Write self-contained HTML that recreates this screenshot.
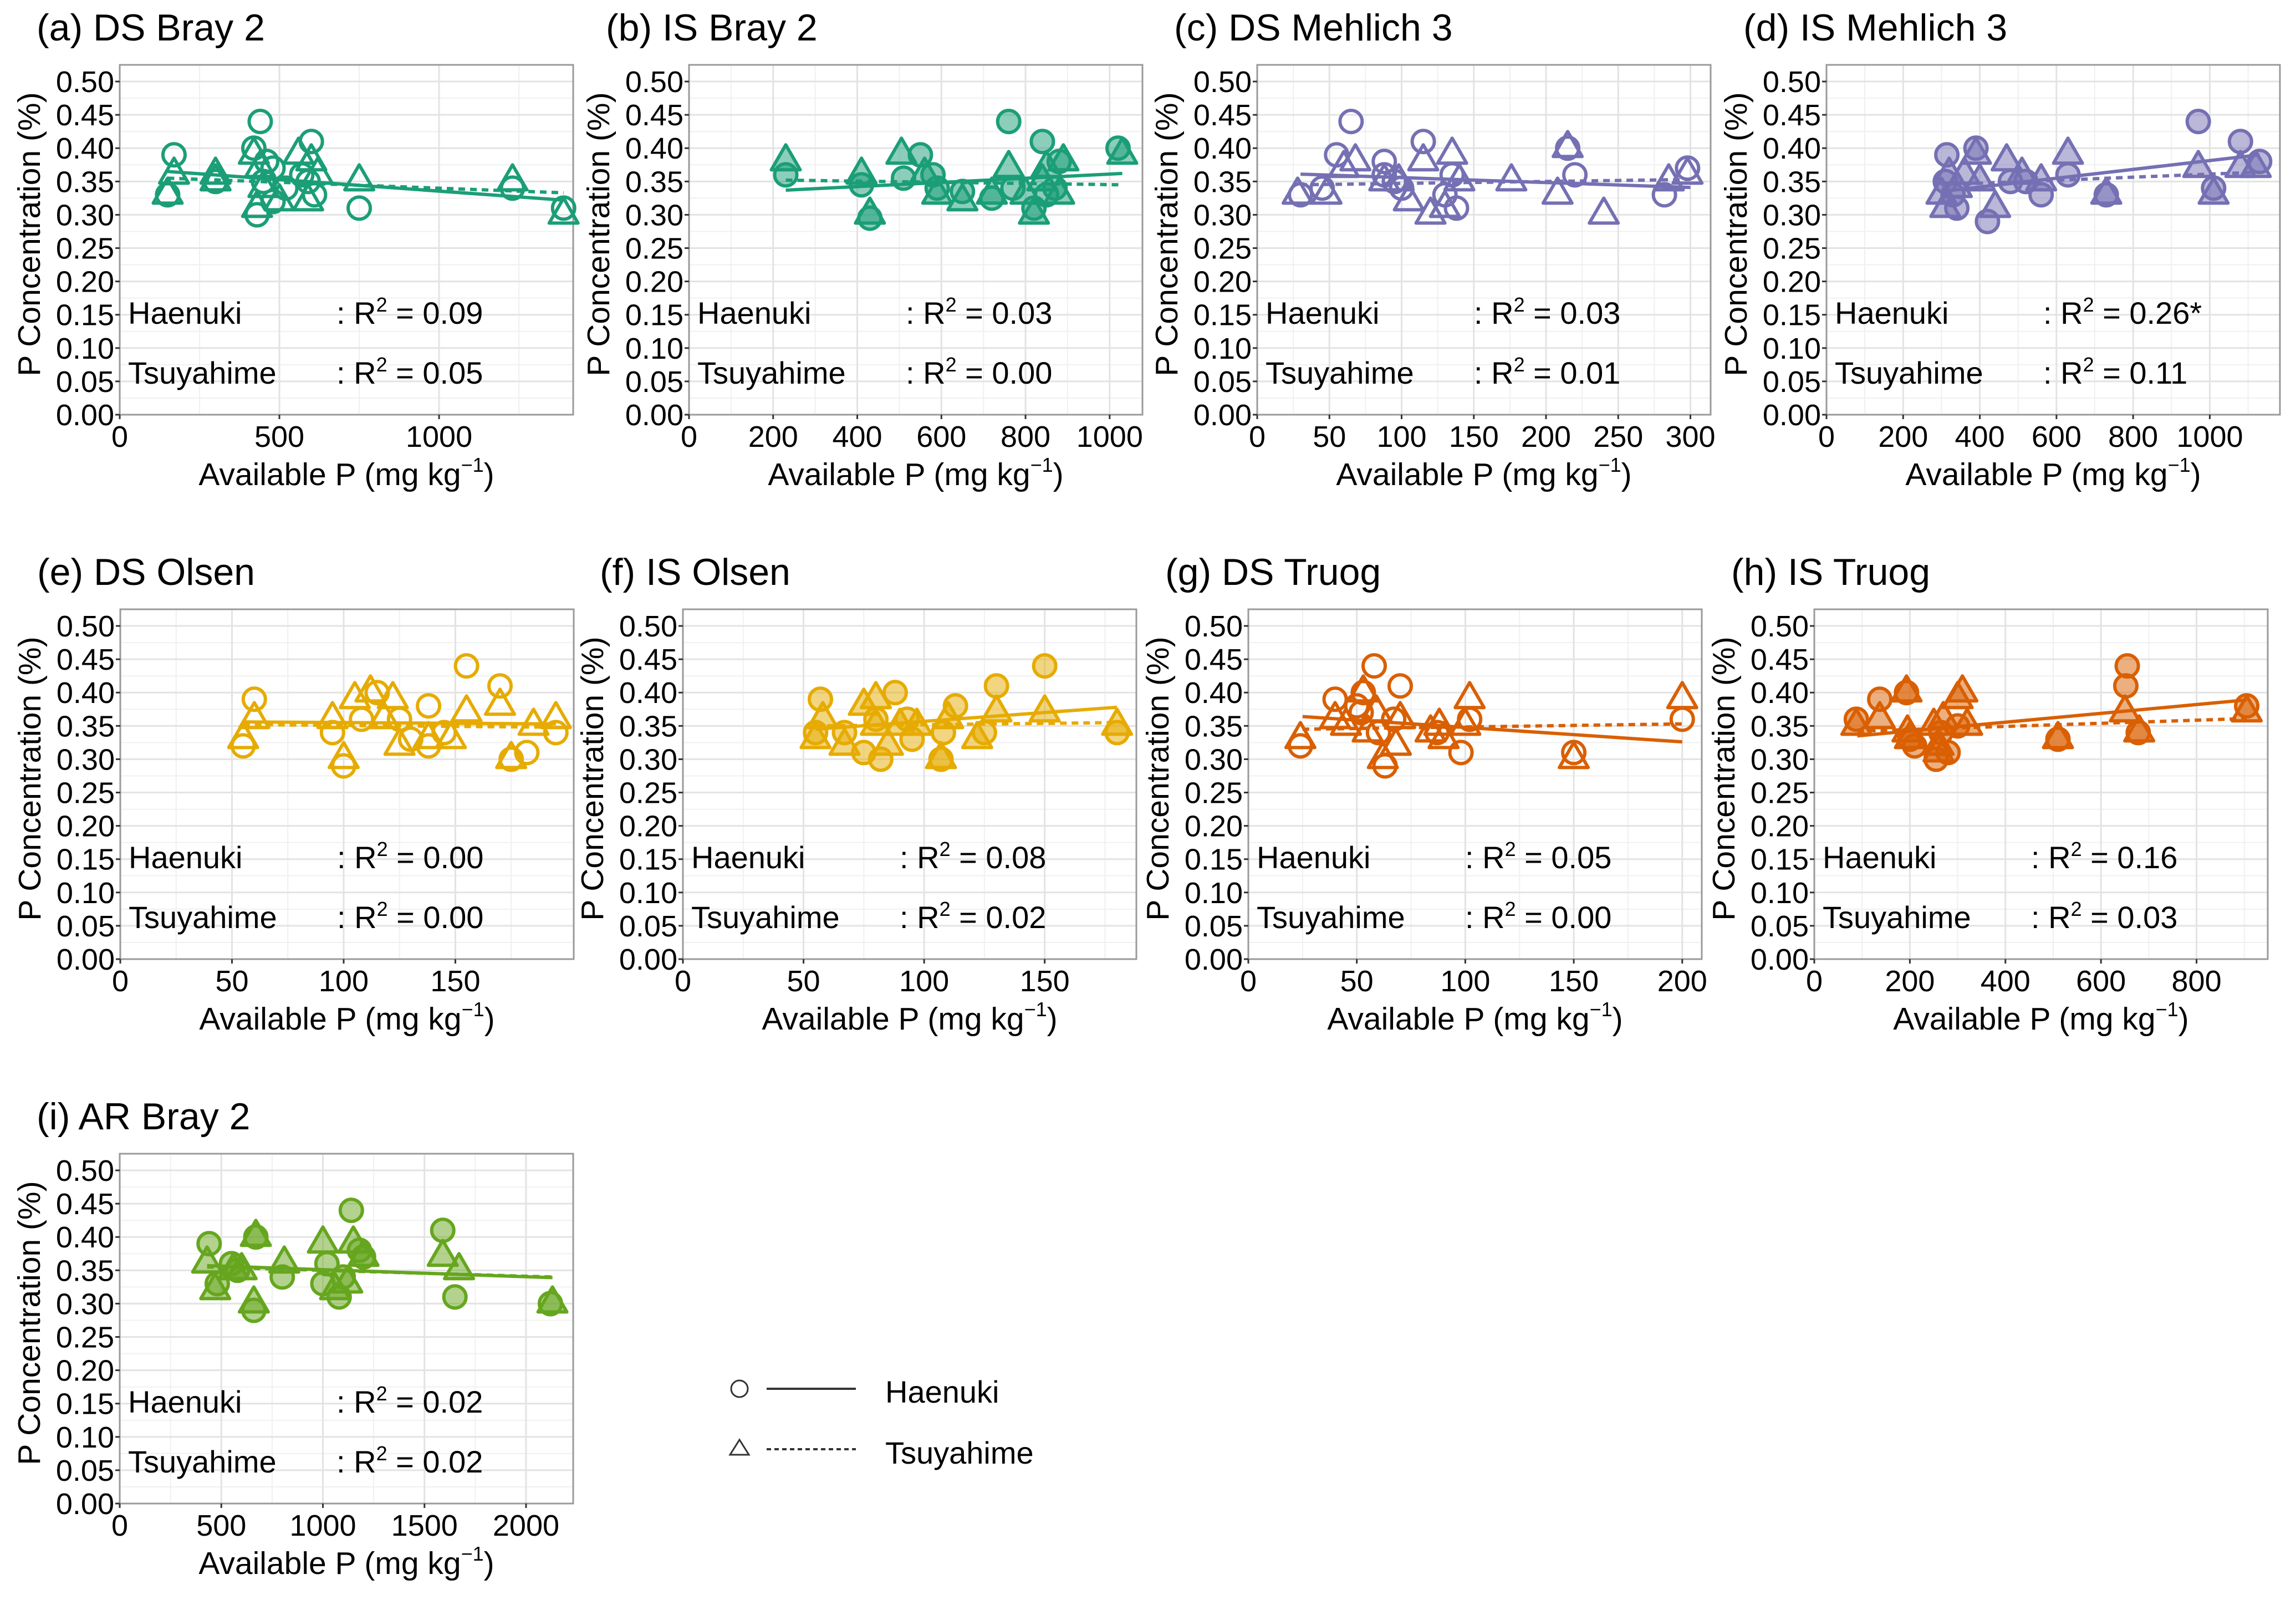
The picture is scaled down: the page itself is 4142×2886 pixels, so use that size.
<!DOCTYPE html>
<html><head><meta charset="utf-8"><style>
html,body{margin:0;padding:0;background:#fff;}
svg{display:block;font-family:"Liberation Sans",Arial,sans-serif;}
</style></head><body>
<svg id="fig" width="4142" height="2886" viewBox="0 0 4142 2886" xmlns="http://www.w3.org/2000/svg"></svg>
<script>
// ---- data (x: available P, y: P concentration) ----
const a_hx=[170,150,300,420,440,430,460,480,520,570,600,610,750,1230,1390,450,480,590];
const a_hy=[0.39,0.33,0.35,0.40,0.44,0.30,0.38,0.37,0.34,0.36,0.41,0.33,0.31,0.34,0.31,0.35,0.32,0.35];
const a_tx=[170,150,300,420,440,430,500,560,600,620,590,750,1230,1390,450,300];
const a_ty=[0.36,0.33,0.36,0.39,0.37,0.31,0.32,0.39,0.38,0.36,0.32,0.35,0.35,0.30,0.34,0.35];
const a_fx=[150,1390]; const a_fh=[0.365,0.322]; const a_ft=[0.355,0.333];

const b_hx=[230,410,430,510,550,580,590,650,720,760,770,820,840,850,880,1020,870];
const b_hy=[0.36,0.345,0.295,0.355,0.39,0.36,0.34,0.335,0.325,0.44,0.34,0.31,0.41,0.33,0.38,0.40,0.34];
const b_tx=[230,410,430,505,560,590,650,720,760,800,820,850,880,890,1030,840];
const b_ty=[0.38,0.36,0.30,0.39,0.36,0.33,0.32,0.33,0.37,0.33,0.30,0.37,0.33,0.38,0.39,0.35];
const b_fx=[230,1030]; const b_fh=[0.337,0.362]; const b_ft=[0.352,0.345];

const c_hx=[30,45,55,65,88,95,100,115,130,135,138,215,220,282,298,88];
const c_hy=[0.33,0.34,0.39,0.44,0.38,0.35,0.34,0.41,0.33,0.36,0.31,0.40,0.36,0.33,0.37,0.36];
const c_tx=[28,48,60,68,88,98,105,115,120,135,140,176,208,215,240,285,298,130];
const c_ty=[0.33,0.33,0.37,0.38,0.35,0.35,0.32,0.38,0.30,0.39,0.35,0.35,0.33,0.40,0.30,0.35,0.36,0.31];
const c_fx=[30,300]; const c_fh=[0.361,0.341]; const c_ft=[0.345,0.353];

const d_hx=[314,330,340,390,420,480,520,560,630,730,970,1010,1080,1130,310];
const d_hy=[0.39,0.33,0.31,0.40,0.29,0.35,0.35,0.33,0.36,0.33,0.44,0.34,0.41,0.38,0.35];
const d_tx=[300,310,320,340,360,390,400,440,470,510,560,630,730,970,1010,1080,1120];
const d_ty=[0.33,0.31,0.36,0.34,0.36,0.39,0.35,0.31,0.38,0.36,0.35,0.39,0.33,0.37,0.33,0.37,0.37];
const d_fx=[300,1130]; const d_fh=[0.335,0.39]; const d_ft=[0.345,0.364];

const e_hx=[55,60,95,100,108,115,125,130,138,138,155,170,175,182,195,145];
const e_hy=[0.32,0.39,0.34,0.29,0.36,0.40,0.36,0.33,0.38,0.32,0.44,0.41,0.30,0.31,0.34,0.34];
const e_tx=[55,60,95,100,105,112,118,122,125,138,148,155,170,175,185,195];
const e_ty=[0.33,0.36,0.36,0.30,0.39,0.40,0.36,0.39,0.32,0.33,0.33,0.37,0.38,0.30,0.35,0.36];
const e_fx=[55,195]; const e_fh=[0.356,0.353]; const e_ft=[0.352,0.348];

const f_hx=[57,55,67,75,80,82,88,93,95,107,108,113,125,130,150,180];
const f_hy=[0.39,0.34,0.34,0.31,0.36,0.30,0.40,0.36,0.33,0.30,0.34,0.38,0.34,0.41,0.44,0.34];
const f_tx=[55,58,67,75,80,85,90,97,107,110,122,130,150,180,80];
const f_ty=[0.33,0.36,0.32,0.38,0.39,0.32,0.35,0.35,0.30,0.36,0.33,0.37,0.37,0.35,0.35];
const f_fx=[55,180]; const f_fh=[0.345,0.378]; const f_ft=[0.35,0.355];

const g_hx=[24,40,50,53,58,60,63,70,67,87,98,102,150,200,52];
const g_hy=[0.32,0.39,0.38,0.40,0.44,0.34,0.29,0.41,0.36,0.34,0.31,0.36,0.31,0.36,0.37];
const g_tx=[24,40,45,53,55,59,62,70,68,84,88,90,102,100,150,200];
const g_ty=[0.33,0.36,0.35,0.40,0.34,0.37,0.30,0.36,0.32,0.34,0.35,0.33,0.39,0.35,0.30,0.39];
const g_fx=[25,200]; const g_fh=[0.364,0.326]; const g_ft=[0.345,0.353];

const h_hx=[88,137,193,200,255,265,280,300,510,655,652,678,905,210];
const h_hy=[0.36,0.39,0.40,0.33,0.30,0.34,0.31,0.35,0.33,0.44,0.41,0.34,0.38,0.32];
const h_tx=[88,137,193,195,200,250,260,270,300,310,320,510,650,680,905,260];
const h_ty=[0.35,0.36,0.40,0.34,0.33,0.35,0.31,0.36,0.39,0.40,0.35,0.33,0.37,0.34,0.37,0.32];
const h_fx=[90,905]; const h_fh=[0.335,0.389]; const h_ft=[0.342,0.361];

const i_hx=[440,480,550,580,660,670,800,1000,1020,1080,1140,1180,1200,1590,1650,2120,1100];
const i_hy=[0.39,0.33,0.36,0.35,0.29,0.40,0.34,0.33,0.36,0.31,0.44,0.38,0.37,0.41,0.31,0.30,0.34];
const i_tx=[430,470,560,600,660,670,810,1000,1060,1120,1150,1200,1590,1670,2130];
const i_ty=[0.36,0.32,0.35,0.35,0.30,0.40,0.36,0.39,0.32,0.33,0.39,0.37,0.37,0.35,0.30];
const i_fx=[430,2130]; const i_fh=[0.357,0.339]; const i_ft=[0.355,0.340];

const yTicks=[0,0.05,0.10,0.15,0.20,0.25,0.30,0.35,0.40,0.45,0.50];
const r2H=["0.09","0.03","0.03","0.26*","0.00","0.08","0.05","0.16","0.02"];
const r2T=["0.05","0.00","0.01","0.11","0.00","0.02","0.00","0.03","0.02"];

const NS="http://www.w3.org/2000/svg";
const svg=document.getElementById('fig');
function mk(tag,attrs,parent){const e=document.createElementNS(NS,tag);for(const k in attrs)e.setAttribute(k,attrs[k]);(parent||svg).appendChild(e);return e;}

const panels=[
 {id:'a',title:'(a) DS Bray 2',L:216,T:117,xmax:1420,xt:[0,500,1000],minor:250,col:'#1b9e77',fill:false,hx:a_hx,hy:a_hy,tx:a_tx,ty:a_ty,fx:a_fx,fh:a_fh,ft:a_ft},
 {id:'b',title:'(b) IS Bray 2',L:1243,T:117,xmax:1078,xt:[0,200,400,600,800,1000],minor:100,col:'#1b9e77',fill:true,hx:b_hx,hy:b_hy,tx:b_tx,ty:b_ty,fx:b_fx,fh:b_fh,ft:b_ft},
 {id:'c',title:'(c) DS Mehlich 3',L:2268,T:117,xmax:314,xt:[0,50,100,150,200,250,300],minor:25,col:'#7570b3',fill:false,hx:c_hx,hy:c_hy,tx:c_tx,ty:c_ty,fx:c_fx,fh:c_fh,ft:c_ft},
 {id:'d',title:'(d) IS Mehlich 3',L:3295,T:117,xmax:1183,xt:[0,200,400,600,800,1000],minor:100,col:'#7570b3',fill:true,hx:d_hx,hy:d_hy,tx:d_tx,ty:d_ty,fx:d_fx,fh:d_fh,ft:d_ft},
 {id:'e',title:'(e) DS Olsen',L:217,T:1099,xmax:203,xt:[0,50,100,150],minor:25,col:'#e6ab02',fill:false,hx:e_hx,hy:e_hy,tx:e_tx,ty:e_ty,fx:e_fx,fh:e_fh,ft:e_ft},
 {id:'f',title:'(f) IS Olsen',L:1232,T:1099,xmax:188,xt:[0,50,100,150],minor:25,col:'#e6ab02',fill:true,hx:f_hx,hy:f_hy,tx:f_tx,ty:f_ty,fx:f_fx,fh:f_fh,ft:f_ft},
 {id:'g',title:'(g) DS Truog',L:2252,T:1099,xmax:209,xt:[0,50,100,150,200],minor:25,col:'#d95f02',fill:false,hx:g_hx,hy:g_hy,tx:g_tx,ty:g_ty,fx:g_fx,fh:g_fh,ft:g_ft},
 {id:'h',title:'(h) IS Truog',L:3273,T:1099,xmax:949,xt:[0,200,400,600,800],minor:100,col:'#d95f02',fill:true,hx:h_hx,hy:h_hy,tx:h_tx,ty:h_ty,fx:h_fx,fh:h_fh,ft:h_ft},
 {id:'i',title:'(i) AR Bray 2',L:216,T:2081,xmax:2232,xt:[0,500,1000,1500,2000],minor:250,col:'#66a61e',fill:true,hx:i_hx,hy:i_hy,tx:i_tx,ty:i_ty,fx:i_fx,fh:i_fh,ft:i_ft}
];
const W=818,H=631,YMAX=0.525;

panels.forEach((p,pi)=>{
  const g=mk('g',{});
  
  
  const X=v=>p.L+v/p.xmax*W;
  const Y=v=>p.T+H-v/YMAX*H;
  const B=p.T+H;
  for(let v=0.025;v<YMAX;v+=0.05){mk('line',{x1:p.L,x2:p.L+W,y1:Y(v),y2:Y(v),stroke:'#f0f0f0','stroke-width':2},g);}
  for(let v=p.minor;v<p.xmax;v+=p.minor*2){mk('line',{x1:X(v),x2:X(v),y1:p.T,y2:B,stroke:'#f0f0f0','stroke-width':2},g);}
  yTicks.forEach(v=>{const l=mk('line',{x1:p.L,x2:p.L+W,y1:Y(v),y2:Y(v),stroke:'#e3e3e3','stroke-width':3},g);
    });
  p.xt.forEach(v=>{const l=mk('line',{x1:X(v),x2:X(v),y1:p.T,y2:B,stroke:'#e3e3e3','stroke-width':3},g);
    });
  const fr=mk('rect',{x:p.L,y:p.T,width:W,height:H,fill:'none',stroke:'#9a9a9a','stroke-width':3},g);
  
  yTicks.forEach(v=>{
    mk('line',{x1:p.L-8,x2:p.L,y1:Y(v),y2:Y(v),stroke:'#333','stroke-width':3},g);
    const t=mk('text',{x:p.L-10,y:Y(v)+19,'text-anchor':'end','font-size':54,fill:'#000'},g);
    t.textContent=v.toFixed(2);
    
  });
  p.xt.forEach(v=>{
    mk('line',{x1:X(v),x2:X(v),y1:B,y2:B+8,stroke:'#333','stroke-width':3},g);
    const t=mk('text',{x:X(v),y:B+58,'text-anchor':'middle','font-size':54,fill:'#000'},g);
    t.textContent=String(v);
    
  });
  const ti=mk('text',{x:p.L-150,y:p.T-44,'font-size':68,fill:'#000'},g);
  ti.textContent=p.title;
  
  const yt=mk('text',{x:0,y:0,'text-anchor':'middle','font-size':57,fill:'#000',transform:`translate(${p.L-144},${p.T+H/2-10}) rotate(-90)`},g);
  yt.textContent='P Concentration (%)';
  
  const xt=mk('text',{x:p.L+W/2,y:B+127,'text-anchor':'middle','font-size':57,fill:'#000'},g);
  
  xt.appendChild(document.createTextNode('Available P (mg kg'));
  const sup=mk('tspan',{'font-size':36,dy:-24},xt);sup.textContent='−1';
  const cl=mk('tspan',{dy:24},xt);cl.textContent=')';
  [['Haenuki',r2H[pi],467],['Tsuyahime',r2T[pi],575]].forEach(([nm,r,dy])=>{
    const a=mk('text',{x:p.L+15,y:p.T+dy,'font-size':56,fill:'#000'},g);a.textContent=nm;
    
    const b=mk('text',{x:p.L+391,y:p.T+dy,'font-size':56,fill:'#000'},g);
    
    b.appendChild(document.createTextNode(': R'));
    const s=mk('tspan',{'font-size':36,dy:-22},b);s.textContent='2';
    const s2=mk('tspan',{dy:22},b);s2.textContent=' = '+r;
  });
  const fillc=p.fill?p.col:'none';
  p.hx.forEach((x,k)=>{
    const c=mk('circle',{cx:X(x),cy:Y(p.hy[k]),r:20,fill:fillc,'fill-opacity':0.5,stroke:p.col,'stroke-width':6},g);
    
  });
  p.tx.forEach((x,k)=>{
    const cx=X(x),cy=Y(p.ty[k]);
    const tr=mk('polygon',{points:`${cx},${cy-30} ${cx-26},${cy+15} ${cx+26},${cy+15}`,fill:fillc,'fill-opacity':0.5,stroke:p.col,'stroke-width':6,'stroke-linejoin':'round'},g);
    
  });
  const lh=mk('line',{x1:X(p.fx[0]),x2:X(p.fx[1]),y1:Y(p.fh[0]),y2:Y(p.fh[1]),stroke:p.col,'stroke-width':6},g);
  
  const lt=mk('line',{x1:X(p.fx[0]),x2:X(p.fx[1]),y1:Y(p.ft[0]),y2:Y(p.ft[1]),stroke:p.col,'stroke-width':6,'stroke-dasharray':'12 9'},g);
  
});

const lg=mk('g',{});


const e1=mk('circle',{cx:1334,cy:2505,r:15,fill:'none',stroke:'#333','stroke-width':3},lg);

const e2=mk('line',{x1:1383,x2:1544,y1:2505,y2:2505,stroke:'#333','stroke-width':4},lg);

const e3=mk('text',{x:1597,y:2530,'font-size':56,fill:'#000'},lg);e3.textContent='Haenuki';

const e4=mk('polygon',{points:'1334,2597 1317,2624 1351,2624',fill:'none',stroke:'#333','stroke-width':3},lg);

const e5=mk('line',{x1:1383,x2:1544,y1:2614,y2:2614,stroke:'#333','stroke-width':4,'stroke-dasharray':'8 6'},lg);

const e6=mk('text',{x:1597,y:2640,'font-size':56,fill:'#000'},lg);e6.textContent='Tsuyahime';

</script>
</body></html>
